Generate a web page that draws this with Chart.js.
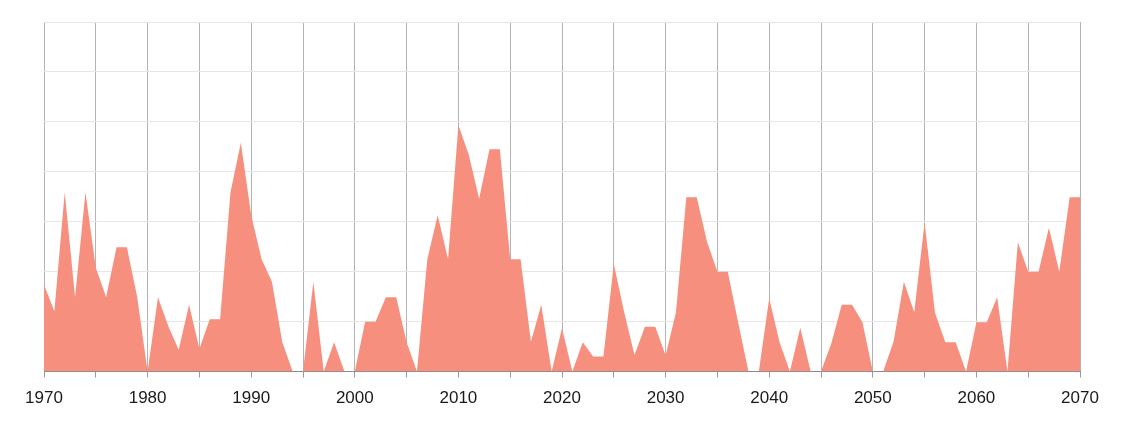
<!DOCTYPE html>
<html>
<head>
<meta charset="utf-8">
<script src="https://cdn.jsdelivr.net/npm/chart.js"></script>
<style>
    html, body { margin: 0; padding: 0; background: #ffffff; }
    .chart-container { position: relative; width: 1124px; height: 423px; }
</style>
</head>
<body>
<div class="chart-container">
    <canvas id="myChart"></canvas>
</div>

<script>
    // yearly values (one horizontal gridline = 10)
    const years = [];
    for (let y = 1970; y <= 2070; y++) years.push(y);

    const values = [
        17.4, 12.1, 35.9, 14.9, 35.9, 20.8, 14.9, 24.9, 24.9, 14.9,   // 1970-1979
        0, 14.9, 9.1, 4.4, 13.4, 4.6, 10.5, 10.5, 35.9, 45.8,         // 1980-1989
        31.3, 22.5, 18.0, 5.9, 0, 0, 18.0, 0, 5.9, 0,                 // 1990-1999
        0, 10, 10, 14.9, 14.9, 5.9, 0, 22.5, 31.3, 22.5,              // 2000-2009
        49.4, 43.4, 34.6, 44.5, 44.5, 22.5, 22.5, 6.0, 13.4, 0,       // 2010-2019
        8.7, 0, 5.9, 3.0, 3.0, 21.6, 11.9, 3.3, 9.0, 9.0,             // 2020-2029
        3.2, 11.9, 34.9, 34.9, 26.0, 20.0, 20.0, 9.9, 0, 0,           // 2030-2039
        14.7, 5.9, 0, 8.8, 0, 0, 5.7, 13.4, 13.4, 9.9,                // 2040-2049
        0, 0, 6.0, 18.0, 11.9, 29.9, 11.8, 5.9, 5.9, 0,               // 2050-2059
        9.9, 9.9, 14.9, 0, 25.9, 20.0, 20.0, 28.8, 20.0, 34.9,        // 2060-2069
        34.9                                                          // 2070
    ];

    const xMin = 1970, xMax = 2070;
    const yMax = 70;

    const ctx = document.getElementById('myChart');

    new Chart(ctx, {
        type: 'line',
        data: {
            datasets: [{
                data: years.map((yr, i) => ({ x: yr, y: values[i] })),
                backgroundColor: '#f68f7e',
                borderColor: '#f68f7e',
                borderWidth: 0,
                pointRadius: 0,
                fill: 'origin',
                tension: 0
            }]
        },
        options: {
            responsive: true,
            maintainAspectRatio: false,
            animation: false,
            layout: {
                padding: { left: 44, right: 44, top: 22, bottom: 3 }
            },
            plugins: {
                legend: { display: false },
                tooltip: { enabled: false }
            },
            scales: {
                x: {
                    type: 'linear',
                    min: xMin,
                    max: xMax,
                    border: { display: true, color: '#8c8c8c', width: 1 },
                    grid: {
                        color: '#b4b4b4',
                        tickColor: '#9a9a9a',
                        tickLength: 6,
                        drawOnChartArea: true
                    },
                    ticks: {
                        stepSize: 5,
                        autoSkip: false,
                        maxRotation: 0,
                        padding: 11,
                        color: '#1a1a1a',
                        font: { family: "'Liberation Sans', sans-serif", size: 17 },
                        callback: v => (v % 10 === 0 ? String(v) : '')
                    }
                },
                y: {
                    min: 0,
                    max: yMax,
                    border: { display: false },
                    grid: {
                        color: '#e6e6e6',
                        drawTicks: false
                    },
                    ticks: {
                        stepSize: 10,
                        display: false
                    }
                }
            }
        }
    });
</script>
</body>
</html>
